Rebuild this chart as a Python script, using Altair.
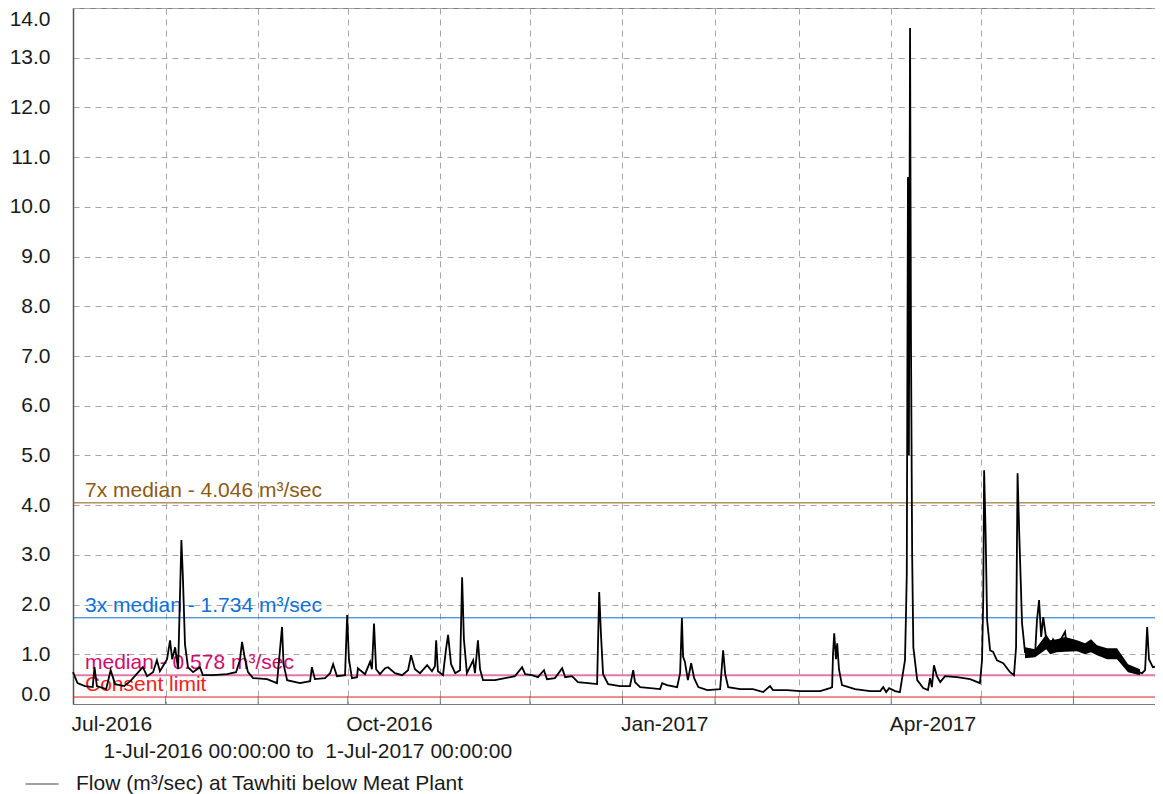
import altair as alt
import pandas as pd

# ---- data (days after 1-Jul-2016 00:00, flow m³/sec) ----
q1_points = [
    (0, 0.64), (1.5, 0.42), (4.0, 0.36), (6.6, 0.34), (7.2, 0.74), (8.0, 0.36),
    (11.1, 0.30), (12.6, 0.68), (14.1, 0.40), (17.1, 0.36), (19.2, 0.46),
    (23.4, 0.74), (24.8, 0.56), (26.8, 0.64), (28.1, 0.88), (29.1, 0.66),
    (30.1, 0.76), (31.5, 0.90), (32.5, 1.28), (33.2, 0.90), (34.2, 1.14),
    (35.2, 0.70), (36.3, 3.30), (36.8, 2.55), (37.5, 1.20), (38.5, 0.74),
    (40.2, 0.64), (42.5, 0.74), (43.5, 0.58), (46.9, 0.58), (51.6, 0.60),
    (54.6, 0.64), (55.9, 0.88), (56.6, 1.25), (57.6, 0.90), (58.6, 0.64),
    (60.3, 0.52), (65.0, 0.50), (68.3, 0.42), (70.0, 1.55), (70.5, 0.80),
    (71.7, 0.48), (76.0, 0.42), (79.4, 0.46), (80.0, 0.74), (81.0, 0.50),
    (84.4, 0.52), (86.1, 0.62), (87.1, 0.80), (88.4, 0.56), (91.1, 0.58),
]
q2_points = [
    (91.8, 1.79), (92.4, 0.90), (93.4, 0.52), (95.1, 0.54), (95.4, 0.72),
    (97.8, 0.60), (99.5, 0.85), (100.1, 0.70), (100.8, 1.62), (101.5, 0.70),
    (102.8, 0.60), (104.5, 0.72), (105.5, 0.74), (107.8, 0.62), (110.2, 0.58),
    (112.2, 0.68), (113.2, 0.98), (114.5, 0.70), (116.2, 0.62), (118.6, 0.78),
    (120.2, 0.66), (121.2, 0.76), (121.6, 1.28), (122.2, 0.66), (123.9, 0.58),
    (124.9, 1.10), (125.6, 1.39), (126.6, 0.80), (128.0, 0.62), (129.6, 0.68),
    (130.3, 2.55), (130.9, 1.30), (131.9, 0.62), (134.0, 0.88), (134.6, 0.62),
    (135.6, 1.28), (136.3, 0.70), (137.3, 0.48), (141.3, 0.48), (144.7, 0.52),
    (148.0, 0.56), (150.4, 0.74), (151.4, 0.60), (153.7, 0.58), (155.7, 0.54),
    (157.7, 0.68), (158.7, 0.50), (161.4, 0.52), (163.8, 0.72), (164.8, 0.54),
    (167.1, 0.56), (169.1, 0.44), (172.5, 0.42), (175.5, 0.40), (176.2, 2.25),
    (176.8, 1.40), (177.5, 0.60), (179.2, 0.40),
]
q3_points = [
    (183.2, 0.36), (186.5, 0.36), (187.6, 0.68), (188.2, 0.44), (189.9, 0.34),
    (196.6, 0.30), (197.3, 0.42), (198.9, 0.38), (202.3, 0.34), (203.3, 0.62),
    (203.9, 1.73), (204.3, 0.95), (204.9, 0.85), (205.9, 0.48), (207.0, 0.82),
    (208.0, 0.52), (209.4, 0.34), (212.4, 0.28), (216.7, 0.30), (217.7, 1.08),
    (218.4, 0.60), (219.4, 0.34), (223.4, 0.30), (227.7, 0.30), (231.1, 0.24),
    (233.4, 0.36), (234.4, 0.28), (239.1, 0.28), (243.5, 0.26), (250.2, 0.26),
    (253.5, 0.32), (254.2, 0.34), (254.5, 1.00), (254.9, 1.42), (255.5, 0.90),
    (255.9, 1.22), (256.5, 0.70), (257.5, 0.38), (261.9, 0.30), (266.9, 0.26),
    (270.3, 0.26), (271.3, 0.34), (272.3, 0.24),
]
q4_points = [
    (273.3, 0.32), (275.3, 0.26), (276.9, 0.24), (278.6, 0.88), (278.9, 1.70),
    (279.2, 2.60), (279.6, 10.6), (279.9, 5.0), (280.3, 13.6), (280.6, 7.4),
    (281.0, 3.0), (281.4, 1.14), (282.7, 0.48), (284.7, 0.32), (286.3, 0.28),
    (287.0, 0.52), (287.6, 0.34), (288.3, 0.78), (289.3, 0.56), (290.4, 0.44),
    (292.0, 0.56), (296.0, 0.54), (300.4, 0.50), (303.7, 0.42), (304.4, 0.88),
    (304.8, 2.09), (305.1, 4.70), (305.6, 3.43), (306.1, 1.69), (307.1, 1.08),
    (308.1, 1.05), (309.4, 0.88), (311.5, 0.82), (313.8, 0.64), (315.1, 0.58),
    (315.8, 1.14), (316.3, 4.64), (316.8, 3.55), (317.8, 1.62), (318.8, 1.04),
    (320.5, 1.00), (322.2, 1.04), (322.8, 1.69), (323.5, 2.09), (324.2, 1.35),
    (324.9, 1.75), (325.9, 1.30), (327.2, 1.14), (328.2, 1.30), (329.5, 1.16),
    (332.2, 1.45), (332.8, 1.16), (336.2, 1.18), (338.9, 1.12), (340.9, 1.25),
    (342.9, 1.10), (346.3, 1.02), (349.6, 1.04), (350.6, 0.88), (353.3, 0.72),
    (355.6, 0.66), (358.0, 0.62), (359.0, 0.68), (359.7, 1.55), (360.3, 0.90),
    (361.6, 0.74), (363.3, 0.76), (365.0, 0.82),
]
# noisy envelope (May-June), days / low / high
band_days = [318.8, 322.2, 325.9, 327.2, 329.5, 332.2, 336.2, 338.9, 340.9,
             342.9, 346.3, 349.6, 353.3, 357.3]
band_lo = [0.92, 0.94, 1.10, 1.00, 1.04, 1.05, 1.06, 1.00, 1.04, 0.98, 0.90,
           0.90, 0.64, 0.58]
band_hi = [1.14, 1.10, 1.40, 1.28, 1.30, 1.35, 1.28, 1.22, 1.30, 1.18, 1.12,
           1.12, 0.80, 0.70]

thr_labels = ["7x median - 4.046 m³/sec", "3x median - 1.734 m³/sec",
              "median - 0.578 m³/sec", "Consent limit"]
thr_values = [4.046, 1.734, 0.578, 0.14]

month_starts = ["2016-08-01", "2016-09-01", "2016-10-01", "2016-11-01",
                "2016-12-01", "2017-01-01", "2017-02-01", "2017-03-01",
                "2017-04-01", "2017-05-01", "2017-06-01"]

series_name = "Flow (m³/sec) at Tawhiti below Meat Plant"
subtitle = "1-Jul-2016 00:00:00 to\u00a0 1-Jul-2017 00:00:00"

# ---- styles ----
FONT = "Liberation Sans"
FS = 21
TXT = "#1a1a1a"
GRID = "#a6a6a6"
line_colors = ["#8c5a12", "#0f6fd8", "#e07aaa", "#e31b1b"]
text_colors = ["#8c5a12", "#0f6fd8", "#d10a6e", "#ff1a1a"]
line_widths = [1, 1, 2.2, 1]

base = pd.Timestamp("2016-07-01 00:00:00")
pts = q1_points + q2_points + q3_points + q4_points
flow = pd.DataFrame({
    "t": [base + pd.to_timedelta(d, unit="D") for d, _ in pts],
    "v": [v for _, v in pts],
    "series": series_name,
})
band = pd.DataFrame({
    "t": [base + pd.to_timedelta(d, unit="D") for d in band_days],
    "lo": band_lo, "hi": band_hi,
})
ticks = pd.DataFrame({"t": [pd.Timestamp(m) for m in month_starts]})

xscale = alt.Scale(domain=[alt.DateTime(year=2016, month=7, date=1),
                           alt.DateTime(year=2017, month=7, date=1)], nice=False)
yscale = alt.Scale(domain=[0, 14], nice=False, zero=False)

x_values = [alt.DateTime(year=2016 + (m > 12) * 1, month=(m - 1) % 12 + 1, date=1)
            for m in range(7, 19)]

x_axis = alt.Axis(
    values=x_values, grid=True, gridDash=[6, 5], gridColor=GRID, gridWidth=1,
    ticks=False, domain=True, domainColor="#7a7a7a", domainWidth=1,
    labelExpr="month(datum.value) % 3 == 0 ? timeFormat(datum.value, '%b-%Y') : ''",
    labelAlign="left", labelBaseline="top", labelPadding=9, labelOffset=-2,
    labelFont=FONT, labelFontSize=FS, labelColor=TXT, labelOverlap=False,
    labelFlush=False,
    title=subtitle, titleX=30, titleY=53, titleAnchor="start", titleAlign="left",
    titleBaseline="alphabetic", titleFont=FONT, titleFontSize=FS,
    titleFontWeight="normal", titleColor=TXT,
)
y_axis = alt.Axis(
    values=list(range(0, 15)), format=".1f", grid=True, gridDash=[6, 5],
    gridColor=GRID, gridWidth=1, ticks=False, domain=True, domainColor="#555555",
    domainWidth=1.5, labelFont=FONT, labelFontSize=FS, labelColor=TXT,
    labelPadding=23, labelFlush=True, title=None,
)

grid_layer = alt.Chart(flow).mark_point(opacity=0).encode(
    x=alt.X("t:T", scale=xscale, axis=x_axis),
    y=alt.Y("v:Q", scale=yscale, axis=y_axis),
)

layers = [grid_layer]
for lab, val, lc, tc, lw in zip(thr_labels, thr_values, line_colors, text_colors, line_widths):
    d = pd.DataFrame({"v": [val], "label": [lab]})
    layers.append(alt.Chart(d).mark_rule(color=lc, strokeWidth=lw).encode(
        y=alt.Y("v:Q", scale=yscale)))
    layers.append(alt.Chart(d).mark_text(
        align="left", baseline="alphabetic", dy=-6, font=FONT, fontSize=FS, color=tc
    ).encode(x=alt.value(12), y=alt.Y("v:Q", scale=yscale), text="label:N"))

tick_layer = alt.Chart(ticks).mark_rule(color="#7a7a7a", strokeWidth=1).encode(
    x=alt.X("t:T", scale=xscale), y=alt.value(688), y2=alt.value(696))
layers.append(tick_layer)

band_layer = alt.Chart(band).mark_area(color="black", opacity=1).encode(
    x=alt.X("t:T", scale=xscale), y=alt.Y("lo:Q", scale=yscale), y2="hi:Q")
layers.append(band_layer)

line_layer = alt.Chart(flow).mark_line(strokeWidth=1.8, interpolate="linear").encode(
    x=alt.X("t:T", scale=xscale),
    y=alt.Y("v:Q", scale=yscale),
    color=alt.Color("series:N", scale=alt.Scale(range=["#000000"]), legend=alt.Legend(
        orient="none", legendX=-48, legendY=759, title=None, symbolType="stroke",
        symbolSize=1089, symbolStrokeWidth=1, symbolOpacity=0.75, labelOffset=17,
        labelFont=FONT, labelFontSize=FS, labelColor=TXT, labelLimit=800,
        padding=0, labelBaseline="middle",
    )),
)
layers.append(line_layer)

chart = alt.layer(*layers).properties(
    width=1090, height=696,
    padding={"left": 65, "top": 0, "right": -8, "bottom": 90},
    autosize=alt.AutoSizeParams(type="none"),
    background="white",
).configure_view(stroke="#808080", strokeWidth=1)

chart.save("out.html", embed_options={"renderer": "svg", "actions": False})
